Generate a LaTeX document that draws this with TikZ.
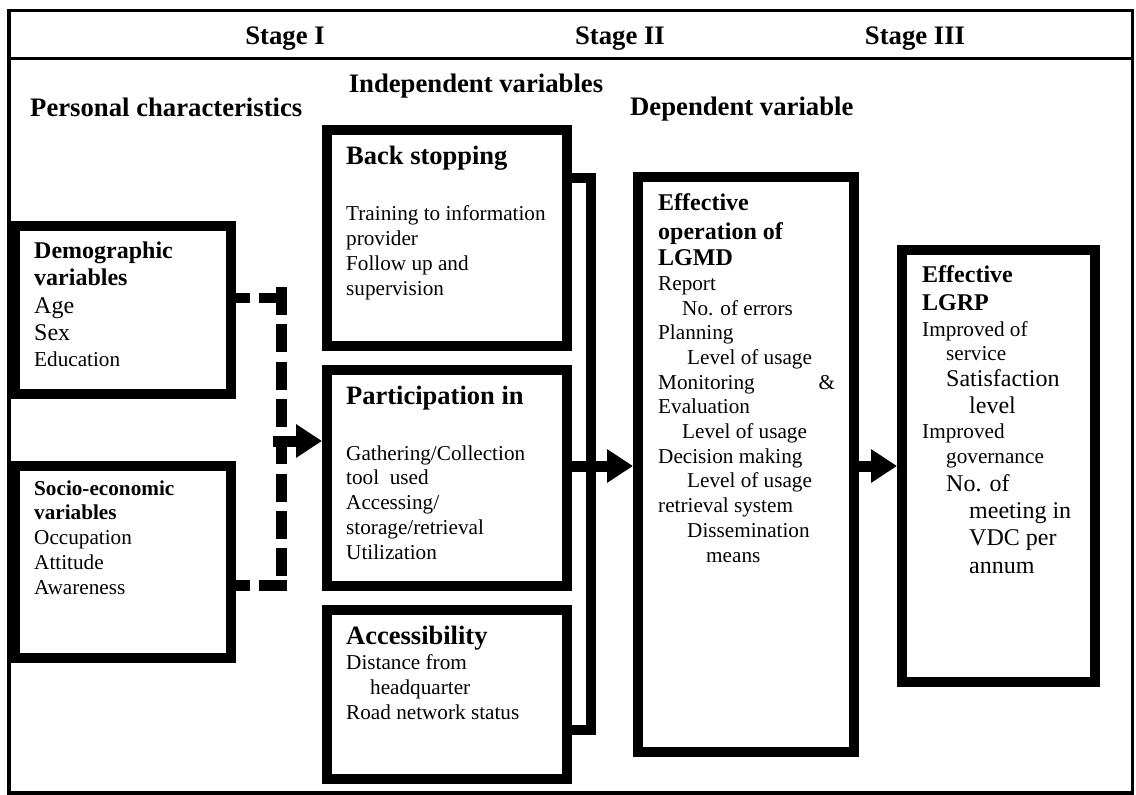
\documentclass[tikz,border=0pt]{standalone}
\usepackage{fontspec}
\setmainfont{Liberation Serif}
\usetikzlibrary{arrows.meta,positioning}

\newcommand{\boxhead}[1]{{\fontsize{24}{27}\selectfont\bfseries #1}}
\newcommand{\boxtitle}[1]{{\fontsize{26.5}{30}\selectfont\bfseries #1}}
\newcommand{\bigtxt}[1]{{\fontsize{24}{27}\selectfont #1}}

\begin{document}
\begin{tikzpicture}[
		x=1pt, y=-1pt,
		box/.style = {draw, line width=10pt, outer sep=5pt, inner sep=0pt, anchor=north west},
		txt/.style = {align=left, inner sep=0pt, anchor=base west, font=\fontsize{21.2}{24.7}\selectfont},
		head/.style = {inner sep=0pt, font=\fontsize{26.7}{30}\selectfont\bfseries},
		arr/.style = {line width=11pt, -{Triangle[length=26pt, width=32pt]}},
		dashline/.style = {line width=10.5pt, dash pattern=on 28pt off 9.3pt},
		bracket/.style = {line width=10pt},
		frame/.style = {line width=3.5pt}
	]
	\useasboundingbox (0,0) rectangle (1136,795);
	\draw[frame] (9,10.3) rectangle (1132.5,793);
	\draw[frame] (9,58.3) -- (1132.5,58.3);

	\node[head, anchor=base] (st1) at (285,44) {Stage I};
	\node[head, anchor=base] (st2) at (620,44) {Stage II};
	\node[head, anchor=base] (st3) at (915,44) {Stage III};
	\node[head, anchor=base] (indep) at (476,92) {Independent variables};
	\node[head, anchor=base west] (pers) at (30,116.5) {Personal characteristics};
	\node[head, anchor=base west] (dep) at (630,115) {Dependent variable};

	% personal characteristics
	\node[box, minimum width=216pt, minimum height=168pt] (demo) at (10,221) {};
	\node[box, minimum width=216pt, minimum height=192pt, anchor=north] (socio) [below=62pt of demo] {};
	% independent variables
	\node[box, minimum width=240pt, minimum height=216pt] (back) at (322,125) {};
	\node[box, minimum width=240pt, minimum height=216pt, anchor=north] (part) [below=14pt of back] {};
	\node[box, minimum width=240pt, minimum height=169pt, anchor=north] (access) [below=14pt of part] {};
	% dependent variables
	\node[box, minimum width=216pt, minimum height=575pt] (effop) at (633,172) {};
	\node[box, minimum width=193pt, minimum height=432pt] (lgrp) at (897,245) {};

	% texts sit on the baseline of their last line
	\node[txt, font=\fontsize{24}{27.5}\selectfont] (demotxt) at (34,366)
		{\textbf{Demographic}\\ \textbf{variables}\\ Age\\ Sex\\[-2pt] {\fontsize{21.2}{24}\selectfont Education}};
	\node[txt] (sociotxt) at (34,594)
		{\textbf{Socio-economic}\\ \textbf{variables}\\ Occupation\\ Attitude\\ Awareness};
	\node[txt] (backtxt) at (346,295)
		{\boxtitle{Back stopping}\\[31.3pt] Training to information\\ provider\\ Follow up and\\ supervision};
	\node[txt] (parttxt) at (346,559)
		{\boxtitle{Participation in}\\[31pt] Gathering/Collection\\ tool\ \ used\\ Accessing/\\ storage/retrieval\\ Utilization};
	\node[txt] (accesstxt) at (346,719)
		{\boxtitle{Accessibility}\\ Distance from\\ \hspace*{24pt}headquarter\\ Road network status};
	\node[txt] (effoptxt) at (658,562)
		{\boxhead{Effective}\\[4.1pt] \boxhead{operation of}\\[1.8pt] \boxhead{LGMD}\\
		Report\\ \hspace*{24pt}No. of errors\\ Planning\\ \hspace*{29pt}Level of usage\\
		\hbox to 177pt{Monitoring\hfill\&}\\ Evaluation\\ \hspace*{24pt}Level of usage\\
		Decision making\\ \hspace*{29pt}Level of usage\\ retrieval system\\
		\hspace*{29pt}Dissemination\\ \hspace*{48pt}means};
	\node[txt] (lgrptxt) at (922,573)
		{\boxhead{Effective}\\[3.3pt] \boxhead{LGRP}\\[1.3pt] Improved of\\
		\hspace*{24pt}service\\[1.3pt] \hspace*{24pt}\bigtxt{Satisfaction}\\[2.3pt]
		\hspace*{47pt}\bigtxt{level}\\ Improved\\ \hspace*{24pt}governance\\[3pt]
		\hspace*{24pt}\bigtxt{No. of}\\[2.3pt] \hspace*{47pt}\bigtxt{meeting in}\\[2.3pt]
		\hspace*{47pt}\bigtxt{VDC per}\\[3.3pt] \hspace*{47pt}\bigtxt{annum}};

	% dashed links of stage I
	\coordinate (dtop) at (287,298);
	\coordinate (dbot) at (287,585.5);
	\coordinate (vtop) at (281.5,287);
	\coordinate (vbot) at (281.5,581);
	\draw[dashline] (dtop) -- (dtop -| demo.east);
	\draw[dashline] (dbot) -- (dbot -| socio.east);
	\draw[dashline] (vtop) -- (vbot);

	% bracket round the independent variables
	\coordinate (brtop) at (591,178);
	\coordinate (brbot) at (591,730);
	\draw[bracket] (brtop -| back.east) -- (brtop) -- (brbot) -- (brbot -| access.east);

	\coordinate (pin) at (273,441);
	\coordinate (pout) at ([yshift=12pt]part.east);
	\draw[arr] (pin) -- (pin -| part.west);
	\draw[arr] (pout) -- (pout -| effop.west);
	\draw[arr] (lgrp.west -| effop.east) -- (lgrp.west);
\end{tikzpicture}
\end{document}
